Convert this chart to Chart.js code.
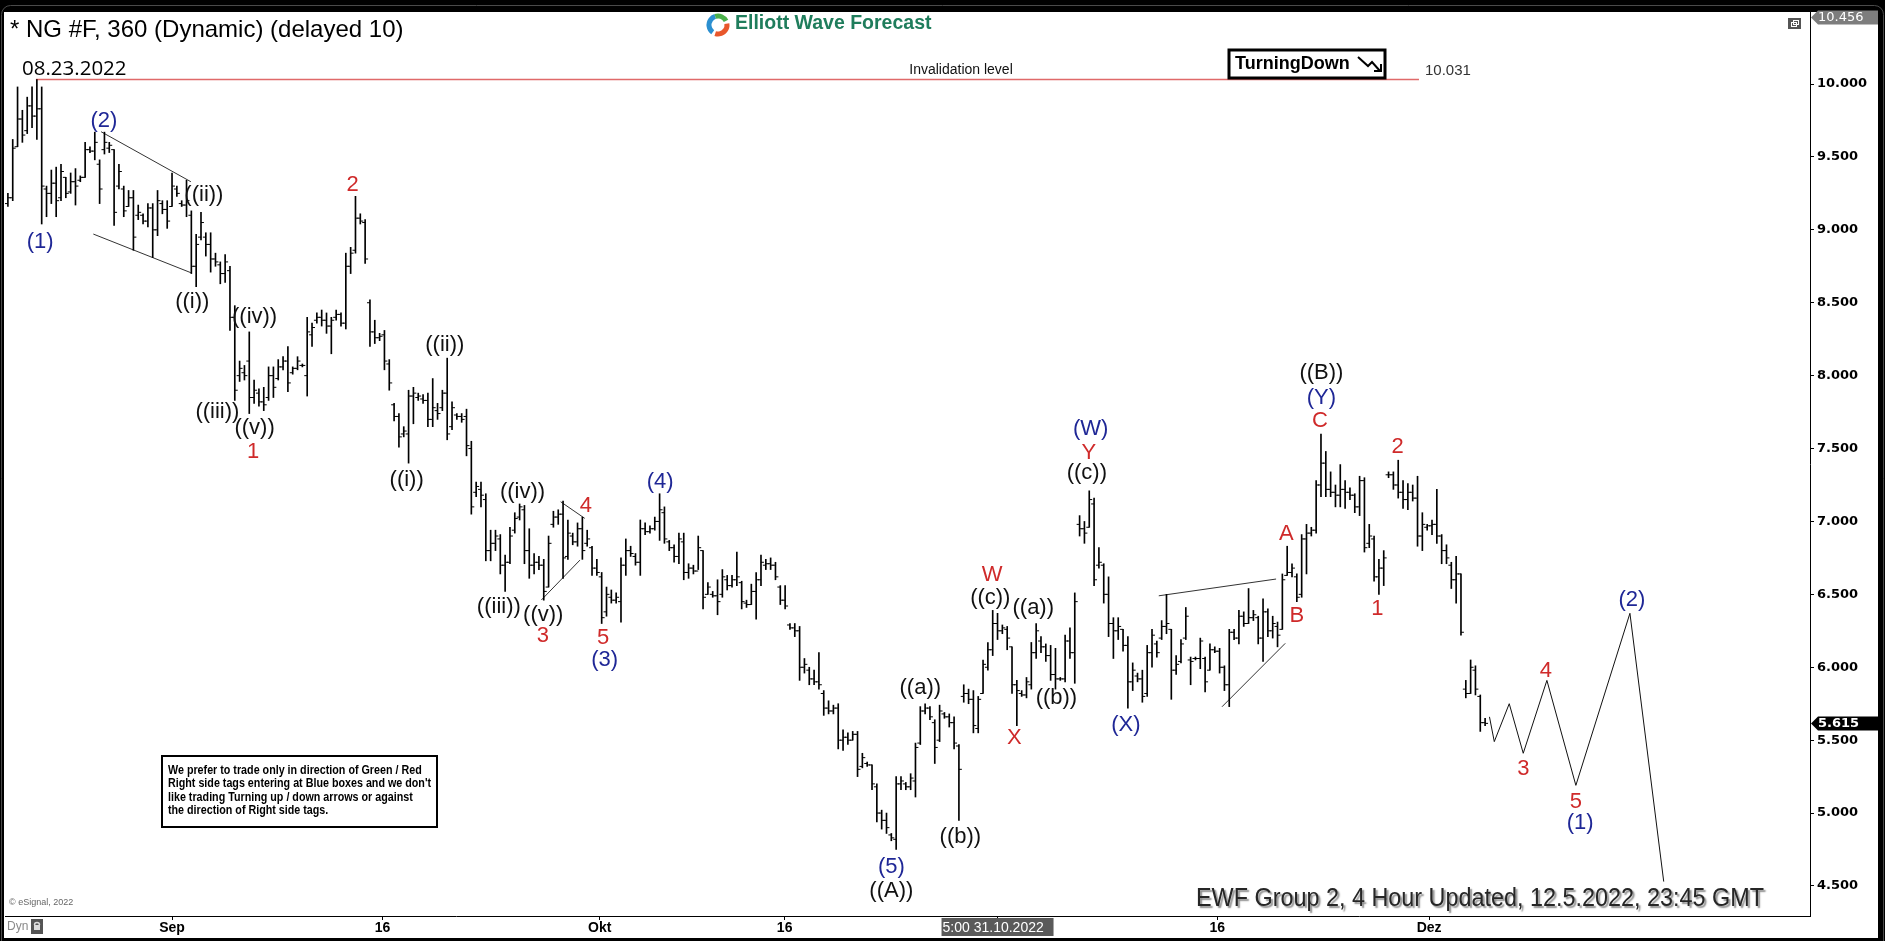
<!DOCTYPE html>
<html>
<head>
<meta charset="utf-8">
<title>NG #F 360</title>
<script src="https://cdn.jsdelivr.net/npm/chart.js@4.4.1/dist/chart.umd.min.js"></script>
<style>
  html, body { margin: 0; padding: 0; background: #000; }
  canvas { display: block; }
</style>
</head>
<body>
<canvas id="chart" width="1885" height="941" style="width:1885px;height:941px"></canvas>
<script>
// 6h bars, bar 0 = Aug 22 night, bar 306 = Dec 5
const opens = [
  9.18, 9.22, 9.57, 9.76, 9.68, 9.85, 9.78, 9.83, 9.28, 9.25,
  9.32, 9.22, 9.36, 9.26, 9.33, 9.34, 9.36, 9.55, 9.54, 9.45,
  9.55, 9.56, 9.55, 9.30, 9.28, 9.16, 9.22, 9.10, 9.10, 9.06,
  9.15, 9.00, 9.18, 9.14, 9.16, 9.28, 9.18, 9.17, 9.10, 8.75,
  8.95, 8.95, 8.90, 8.80, 8.76, 8.70, 8.72, 8.40, 8.00, 8.02,
  8.10, 7.85, 7.88, 7.82, 7.85, 8.00, 7.98, 8.06, 8.10, 8.02,
  8.05, 8.07, 8.00, 8.28, 8.38, 8.40, 8.38, 8.34, 8.40, 8.42,
  8.36, 8.75, 8.86, 9.08, 9.05, 8.50, 8.30, 8.26, 8.28, 8.08,
  7.80, 7.72, 7.60, 7.60, 7.86, 7.85, 7.84, 7.83, 7.70, 7.76,
  7.78, 7.88, 7.65, 7.73, 7.72, 7.72, 7.50, 7.20, 7.22, 7.15,
  6.80, 6.85, 6.88, 6.70, 6.72, 6.94, 7.03, 7.08, 6.80, 6.70,
  6.72, 6.70, 6.55, 6.98, 7.03, 7.05, 6.76, 6.90, 6.86, 6.95,
  6.85, 6.82, 6.68, 6.62, 6.38, 6.48, 6.46, 6.45, 6.70, 6.80,
  6.76, 6.72, 6.95, 6.93, 6.95, 7.00, 7.06, 6.86, 6.82, 6.76,
  6.86, 6.65, 6.68, 6.66, 6.80, 6.50, 6.50, 6.49, 6.50, 6.60,
  6.56, 6.60, 6.58, 6.44, 6.43, 6.52, 6.60, 6.70, 6.71, 6.70,
  6.55, 6.46, 6.29, 6.27, 6.25, 6.00, 5.98, 5.92, 5.90, 5.82,
  5.72, 5.70, 5.72, 5.50, 5.52, 5.50, 5.54, 5.32, 5.34, 5.33,
  5.18, 5.00, 4.95, 4.85, 4.82, 5.20, 5.20, 5.18, 5.22, 5.48,
  5.70, 5.72, 5.62, 5.50, 5.68, 5.66, 5.62, 5.46, 5.80, 5.82,
  5.78, 5.58, 5.82, 6.00, 6.12, 6.30, 6.25, 6.26, 6.14, 5.88,
  5.82, 5.81, 5.88, 6.10, 6.18, 6.14, 6.08, 5.95, 5.92, 5.92,
  6.18, 6.10, 6.98, 6.95, 6.96, 7.12, 6.70, 6.70, 6.50, 6.30,
  6.25, 6.26, 6.15, 5.90, 5.94, 5.92, 5.82, 6.10, 6.16, 6.20,
  6.28, 6.26, 5.98, 6.04, 6.20, 6.05, 6.06, 6.06, 6.06, 5.98,
  6.12, 6.11, 6.00, 5.88, 6.24, 6.20, 6.35, 6.30, 6.34, 6.34,
  6.20, 6.38, 6.25, 6.28, 6.26, 6.63, 6.65, 6.62, 6.50, 6.88,
  6.92, 6.94, 7.25, 7.40, 7.22, 7.20, 7.18, 7.22, 7.20, 7.18,
  7.10, 7.28, 6.85, 6.88, 6.62, 6.68, 7.32, 7.32, 7.25, 7.20,
  7.15, 7.20, 7.16, 6.90, 6.96, 6.97, 6.98, 6.90, 6.80, 6.70,
  6.60, 6.64, 5.85, 5.82, 5.98, 5.80, 5.62
];
const highs = [
  9.25, 9.62, 9.98, 9.82, 9.91, 9.98, 10.03, 9.98, 9.30, 9.41,
  9.43, 9.45, 9.36, 9.39, 9.42, 9.37, 9.60, 9.57, 9.67, 9.48,
  9.67, 9.60, 9.55, 9.45, 9.30, 9.27, 9.27, 9.17, 9.11, 9.18,
  9.18, 9.27, 9.20, 9.20, 9.39, 9.30, 9.20, 9.34, 9.13, 8.97,
  9.12, 8.98, 8.98, 8.84, 8.78, 8.83, 8.75, 8.48, 8.10, 8.07,
  8.30, 7.97, 7.91, 7.92, 8.06, 8.06, 8.11, 8.13, 8.20, 8.06,
  8.13, 8.08, 8.40, 8.36, 8.43, 8.45, 8.43, 8.40, 8.45, 8.43,
  8.84, 8.88, 9.23, 9.11, 9.07, 8.52, 8.38, 8.29, 8.31, 8.11,
  7.81, 7.74, 7.65, 7.90, 7.92, 7.88, 7.87, 7.88, 7.98, 7.81,
  7.90, 8.12, 7.82, 7.74, 7.74, 7.77, 7.55, 7.27, 7.27, 7.19,
  6.94, 6.94, 6.91, 6.77, 6.96, 7.06, 7.12, 7.11, 6.95, 6.78,
  6.76, 6.74, 6.90, 7.07, 7.08, 7.14, 7.01, 6.92, 6.99, 7.03,
  6.94, 6.83, 6.74, 6.65, 6.55, 6.53, 6.51, 6.75, 6.88, 6.83,
  6.78, 7.01, 6.99, 6.97, 7.03, 7.19, 7.10, 6.87, 6.84, 6.92,
  6.92, 6.71, 6.70, 6.90, 6.80, 6.58, 6.52, 6.60, 6.67, 6.63,
  6.63, 6.79, 6.59, 6.46, 6.57, 6.65, 6.77, 6.74, 6.75, 6.72,
  6.56, 6.56, 6.30, 6.30, 6.28, 6.06, 6.00, 5.98, 6.10, 5.84,
  5.77, 5.74, 5.75, 5.57, 5.55, 5.56, 5.56, 5.41, 5.35, 5.33,
  5.20, 5.02, 5.00, 4.86, 5.25, 5.25, 5.21, 5.27, 5.48, 5.73,
  5.75, 5.73, 5.64, 5.74, 5.69, 5.68, 5.66, 5.47, 5.88, 5.85,
  5.84, 5.80, 6.05, 6.17, 6.39, 6.37, 6.29, 6.28, 6.14, 5.91,
  5.84, 5.93, 6.17, 6.30, 6.21, 6.16, 6.15, 6.13, 5.93, 6.22,
  6.27, 6.51, 7.04, 7.00, 7.21, 7.16, 6.82, 6.71, 6.62, 6.34,
  6.34, 6.26, 6.21, 6.03, 5.96, 5.98, 6.15, 6.26, 6.18, 6.32,
  6.50, 6.26, 6.08, 6.19, 6.41, 6.07, 6.07, 6.20, 6.07, 6.16,
  6.14, 6.13, 6.01, 6.26, 6.26, 6.39, 6.38, 6.54, 6.39, 6.35,
  6.47, 6.40, 6.35, 6.31, 6.64, 6.83, 6.71, 6.64, 6.91, 6.98,
  6.96, 7.28, 7.60, 7.48, 7.34, 7.25, 7.39, 7.28, 7.23, 7.19,
  7.31, 7.30, 6.98, 6.90, 6.74, 6.80, 7.34, 7.34, 7.42, 7.28,
  7.26, 7.25, 7.31, 7.06, 6.98, 7.01, 7.22, 6.91, 6.84, 6.72,
  6.76, 6.64, 5.91, 6.05, 6.01, 5.81, 5.65
];
const lows = [
  9.16, 9.20, 9.57, 9.60, 9.66, 9.70, 9.62, 9.04, 9.09, 9.18,
  9.09, 9.20, 9.22, 9.25, 9.17, 9.33, 9.36, 9.53, 9.48, 9.18,
  9.52, 9.53, 9.03, 9.28, 9.09, 9.16, 8.86, 9.07, 9.04, 9.02,
  8.81, 8.96, 9.11, 9.01, 9.16, 9.23, 9.16, 9.09, 8.70, 8.61,
  8.93, 8.82, 8.71, 8.75, 8.63, 8.64, 8.31, 7.83, 7.96, 7.97,
  7.74, 7.81, 7.79, 7.76, 7.83, 7.85, 7.97, 8.04, 7.89, 8.01,
  8.04, 8.06, 7.86, 8.20, 8.36, 8.34, 8.29, 8.15, 8.38, 8.34,
  8.32, 8.70, 8.84, 9.04, 8.77, 8.20, 8.22, 8.24, 8.04, 7.90,
  7.69, 7.51, 7.58, 7.40, 7.67, 7.83, 7.81, 7.65, 7.65, 7.70,
  7.76, 7.56, 7.63, 7.70, 7.68, 7.45, 7.05, 7.17, 7.10, 6.73,
  6.73, 6.80, 6.64, 6.52, 6.71, 6.92, 7.01, 6.71, 6.61, 6.64,
  6.67, 6.46, 6.55, 6.96, 6.98, 6.61, 6.74, 6.84, 6.83, 6.74,
  6.83, 6.63, 6.63, 6.30, 6.35, 6.44, 6.44, 6.31, 6.63, 6.76,
  6.70, 6.63, 6.91, 6.92, 6.94, 6.87, 6.85, 6.80, 6.72, 6.71,
  6.60, 6.61, 6.64, 6.67, 6.40, 6.50, 6.48, 6.36, 6.48, 6.53,
  6.55, 6.56, 6.40, 6.41, 6.43, 6.33, 6.56, 6.67, 6.67, 6.60,
  6.43, 6.40, 6.26, 6.21, 5.91, 5.96, 5.88, 5.88, 5.85, 5.67,
  5.68, 5.68, 5.44, 5.43, 5.47, 5.50, 5.25, 5.31, 5.32, 5.16,
  4.94, 4.89, 4.86, 4.81, 4.75, 5.16, 5.16, 5.16, 5.11, 5.47,
  5.68, 5.64, 5.34, 5.49, 5.65, 5.59, 5.44, 4.95, 5.76, 5.75,
  5.55, 5.55, 5.82, 5.98, 6.08, 6.19, 6.23, 6.12, 5.82, 5.60,
  5.80, 5.79, 5.85, 6.06, 6.10, 6.04, 5.91, 5.85, 5.91, 5.90,
  6.06, 5.89, 6.90, 6.85, 6.96, 6.56, 6.68, 6.44, 6.21, 6.06,
  6.19, 6.11, 5.72, 5.84, 5.90, 5.76, 5.80, 6.00, 6.07, 6.19,
  6.23, 5.78, 5.95, 6.03, 6.19, 5.88, 6.05, 5.99, 5.83, 5.98,
  6.10, 5.96, 5.84, 5.73, 6.19, 6.16, 6.28, 6.30, 6.32, 6.16,
  6.04, 6.21, 6.20, 6.14, 6.26, 6.63, 6.62, 6.45, 6.48, 6.64,
  6.90, 6.92, 7.17, 7.17, 7.17, 7.10, 7.10, 7.09, 7.15, 7.06,
  7.04, 6.79, 6.82, 6.59, 6.50, 6.56, 7.30, 7.22, 7.16, 7.09,
  7.08, 7.14, 6.83, 6.80, 6.94, 6.91, 6.85, 6.71, 6.71, 6.54,
  6.44, 6.22, 5.79, 5.82, 5.81, 5.56, 5.60
];
const closes = [
  9.22, 9.56, 9.76, 9.65, 9.85, 9.78, 9.83, 9.30, 9.25, 9.32,
  9.20, 9.40, 9.25, 9.33, 9.30, 9.36, 9.55, 9.54, 9.60, 9.28,
  9.60, 9.58, 9.12, 9.40, 9.13, 9.22, 8.95, 9.12, 9.06, 9.15,
  9.00, 9.20, 9.14, 9.06, 9.30, 9.25, 9.17, 9.20, 8.75, 8.90,
  9.05, 8.90, 8.80, 8.78, 8.70, 8.78, 8.40, 7.90, 8.05, 8.00,
  7.85, 7.90, 7.82, 7.80, 8.00, 7.92, 8.06, 8.10, 7.95, 8.05,
  8.10, 8.07, 8.30, 8.33, 8.40, 8.38, 8.34, 8.38, 8.42, 8.36,
  8.75, 8.84, 9.08, 9.06, 8.80, 8.30, 8.26, 8.27, 8.10, 7.95,
  7.72, 7.58, 7.62, 7.86, 7.88, 7.86, 7.83, 7.70, 7.78, 7.74,
  7.88, 7.60, 7.78, 7.72, 7.70, 7.52, 7.10, 7.24, 7.18, 6.80,
  6.85, 6.90, 6.70, 6.72, 6.90, 7.02, 7.10, 6.80, 6.70, 6.72,
  6.70, 6.52, 6.85, 7.03, 7.05, 6.75, 6.92, 6.86, 6.95, 6.80,
  6.88, 6.68, 6.65, 6.34, 6.50, 6.46, 6.48, 6.70, 6.80, 6.78,
  6.72, 6.95, 6.93, 6.95, 7.00, 7.08, 6.88, 6.82, 6.76, 6.88,
  6.65, 6.68, 6.66, 6.82, 6.48, 6.55, 6.49, 6.45, 6.62, 6.56,
  6.60, 6.62, 6.45, 6.43, 6.52, 6.60, 6.72, 6.71, 6.70, 6.62,
  6.46, 6.42, 6.27, 6.25, 6.00, 6.02, 5.92, 5.90, 5.88, 5.72,
  5.70, 5.72, 5.50, 5.52, 5.50, 5.54, 5.30, 5.38, 5.33, 5.20,
  5.00, 4.95, 4.90, 4.83, 5.20, 5.22, 5.18, 5.24, 5.45, 5.70,
  5.72, 5.66, 5.45, 5.70, 5.66, 5.62, 5.48, 5.30, 5.82, 5.78,
  5.60, 5.78, 6.02, 6.12, 6.30, 6.25, 6.27, 6.20, 5.88, 5.84,
  5.81, 5.90, 6.10, 6.25, 6.14, 6.08, 5.95, 5.92, 5.92, 6.18,
  6.10, 6.45, 6.95, 6.92, 7.15, 6.60, 6.72, 6.50, 6.30, 6.25,
  6.28, 6.15, 5.90, 5.98, 5.92, 5.80, 6.10, 6.22, 6.10, 6.28,
  6.30, 5.98, 6.02, 6.16, 6.35, 6.04, 6.06, 6.18, 5.90, 6.12,
  6.11, 6.00, 5.88, 6.24, 6.20, 6.35, 6.30, 6.34, 6.36, 6.20,
  6.38, 6.25, 6.30, 6.22, 6.60, 6.65, 6.68, 6.48, 6.88, 6.92,
  6.94, 7.25, 7.40, 7.22, 7.20, 7.18, 7.22, 7.20, 7.18, 7.10,
  7.28, 6.82, 6.90, 6.62, 6.68, 6.75, 7.32, 7.25, 7.20, 7.15,
  7.20, 7.16, 6.90, 6.98, 6.97, 6.98, 6.90, 6.80, 6.75, 6.60,
  6.64, 6.24, 5.82, 6.00, 5.85, 5.62, 5.615
];

// projected path after the last bar (bar index, price)
const forecastX = [306.9, 307.9, 311.0, 313.9, 318.8, 324.8, 336.0, 343.0];
const forecastY = [5.66, 5.49, 5.75, 5.41, 5.91, 5.19, 6.37, 4.53];

// channel / triangle lines, [index, price] pairs
const trendLines = [
  [[19.3, 9.673], [37.9, 9.33]],
  [[17.7, 8.971], [37.9, 8.706]],
  [[114.5, 7.135], [119.5, 7.021]],
  [[110.5, 6.461], [118.5, 6.735]],
  [[238.4, 6.49], [262.7, 6.605]],
  [[251.5, 5.729], [264.6, 6.164]]
];

const invalidation = 10.031;
const invalidationSpan = [5.8, 292.3];
const lastPrice = 5.615;
const topPrice = 10.456;

const xTickPos = [34.0, 77.6, 122.6, 160.9, 205.0, 250.5, 294.4];
const xTickLabels = ['Sep', '16', 'Okt', '16', '5:00 31.10.2022', '16', 'Dez'];
const yTicks = [4.5, 5, 5.5, 6, 6.5, 7, 7.5, 8, 8.5, 9, 9.5, 10];

const BLUE = '#1f2796', RED = '#cf2a2a', INK = '#111';
// wave labels: text, bar index, price, colour
const waveLabels = [
  ['(2)', 19.9, 9.748, BLUE], ['(1)', 6.7, 8.918, BLUE],
  ['((ii))', 40.6, 9.239, INK], ['((i))', 38.2, 8.507, INK],
  ['((iv))', 51.1, 8.40, INK], ['((iii))', 43.4, 7.752, INK],
  ['((v))', 51.1, 7.638, INK], ['1', 50.8, 7.478, RED],
  ['2', 71.4, 9.307, RED],
  ['((ii))', 90.5, 8.21, INK], ['((i))', 82.6, 7.284, INK],
  ['((iv))', 106.6, 7.204, INK], ['4', 119.7, 7.106, RED],
  ['((iii))', 101.7, 6.415, INK], ['((v))', 110.9, 6.358, INK],
  ['3', 110.8, 6.214, RED], ['5', 123.3, 6.198, RED],
  ['(3)', 123.6, 6.049, BLUE], ['(4)', 135.1, 7.272, BLUE],
  ['((a))', 189.0, 5.855, INK], ['((b))', 197.3, 4.838, INK],
  ['(5)', 183.0, 4.632, BLUE], ['((A))', 183.0, 4.465, INK],
  ['W', 203.9, 6.632, RED], ['((c))', 203.5, 6.473, INK],
  ['((a))', 212.4, 6.404, INK], ['((b))', 217.2, 5.787, INK],
  ['X', 208.5, 5.512, RED],
  ['(W)', 224.3, 7.632, BLUE], ['Y', 223.9, 7.467, RED],
  ['((c))', 223.5, 7.33, INK], ['(X)', 231.6, 5.604, BLUE],
  ['A', 264.8, 6.914, RED], ['B', 267.0, 6.351, RED],
  ['C', 271.8, 7.691, RED], ['(Y)', 272.1, 7.846, BLUE],
  ['((B))', 272.1, 8.02, INK],
  ['2', 287.9, 7.512, RED], ['1', 283.7, 6.397, RED],
  ['3', 313.9, 5.30, RED], ['4', 318.6, 5.976, RED],
  ['5', 324.8, 5.078, RED], ['(1)', 325.7, 4.929, BLUE],
  ['(2)', 336.4, 6.461, BLUE]
];

const noteLines = [
  'We prefer to trade only in direction of Green / Red',
  "Right side tags entering at Blue boxes and we don't",
  'like trading Turning up / down arrows or against',
  'the direction of Right side tags.'
];

const SANS = '"Liberation Sans", Arial, sans-serif';
Chart.defaults.font.family = SANS;

const frame = {
  id: 'frame',
  beforeDraw(chart) {
    const ctx = chart.ctx;
    ctx.save();
    ctx.fillStyle = '#000';
    ctx.fillRect(0, 0, chart.width, chart.height);
    ctx.strokeStyle = '#4a4a4a';
    ctx.lineWidth = 1;
    ctx.beginPath();
    ctx.roundRect(1.5, 5.5, 1882, 950, 9);
    ctx.stroke();
    ctx.fillStyle = '#fff';
    ctx.fillRect(4, 12, 1874, 926);
    ctx.restore();
  }
};

function priceTag(ctx, y, text, bg, bold) {
  const x0 = 1811, x1 = 1878, h = 14;
  ctx.fillStyle = bg;
  ctx.beginPath();
  ctx.moveTo(x0, y);
  ctx.lineTo(x0 + 7, y - h / 2);
  ctx.lineTo(x1, y - h / 2);
  ctx.lineTo(x1, y + h / 2);
  ctx.lineTo(x0 + 7, y + h / 2);
  ctx.closePath();
  ctx.fill();
  ctx.fillStyle = '#fff';
  ctx.font = (bold ? 'bold ' : '') + '13px "DejaVu Sans"';
  ctx.textAlign = 'left';
  ctx.textBaseline = 'middle';
  ctx.fillText(text, 1818, y + 0.5);
}

function squeezeText(ctx, text, x, y, width) {
  const w = ctx.measureText(text).width;
  ctx.save();
  ctx.translate(x, y);
  ctx.scale(Math.min(1, width / w), 1);
  ctx.fillText(text, 0, 0);
  ctx.restore();
}

const overlay = {
  id: 'overlay',
  afterDraw(chart) {
    const ctx = chart.ctx;
    const xs = chart.scales.x, ys = chart.scales.y;
    ctx.save();

    // header
    ctx.fillStyle = '#000';
    ctx.textAlign = 'left';
    ctx.textBaseline = 'alphabetic';
    ctx.font = '24px ' + SANS;
    ctx.fillText('* NG #F, 360 (Dynamic) (delayed 10)', 10, 37);
    ctx.font = '20.5px "Open Sans"';
    ctx.fillText('08.23.2022', 22, 75);

    // logo
    const cx = 718, cy = 25, r = 9;
    ctx.lineWidth = 5;
    ctx.strokeStyle = '#2b8fd0';
    ctx.beginPath(); ctx.arc(cx, cy, r, Math.PI * 0.7, Math.PI * 1.4); ctx.stroke();
    ctx.strokeStyle = '#4bb04a';
    ctx.beginPath(); ctx.arc(cx, cy, r, Math.PI * 1.4, Math.PI * 1.85); ctx.stroke();
    ctx.strokeStyle = '#e8572b';
    ctx.beginPath(); ctx.arc(cx, cy, r, Math.PI * 1.95, Math.PI * 0.6); ctx.stroke();
    ctx.fillStyle = '#1f7d5c';
    ctx.font = 'bold 19.5px ' + SANS;
    ctx.textBaseline = 'middle';
    ctx.fillText('Elliott Wave Forecast', 735, 24);

    // invalidation texts
    ctx.fillStyle = '#111';
    ctx.font = '14px ' + SANS;
    ctx.textAlign = 'center';
    ctx.fillText('Invalidation level', 961, 70);
    ctx.textAlign = 'left';
    ctx.fillStyle = '#333';
    ctx.font = '15px ' + SANS;
    ctx.fillText(invalidation.toFixed(3), 1425, 71);

    // Turning down tag
    ctx.lineWidth = 3;
    ctx.strokeStyle = '#000';
    ctx.fillStyle = '#fff';
    ctx.fillRect(1229, 50, 156, 28);
    ctx.strokeRect(1229, 50, 156, 28);
    ctx.fillStyle = '#000';
    ctx.font = 'bold 18px ' + SANS;
    ctx.fillText('TurningDown', 1235, 64.5);
    ctx.lineWidth = 2;
    ctx.beginPath();
    ctx.moveTo(1358, 57); ctx.lineTo(1368, 66); ctx.lineTo(1372, 62); ctx.lineTo(1380, 71);
    ctx.moveTo(1374, 71); ctx.lineTo(1381, 71); ctx.lineTo(1381, 64);
    ctx.stroke();

    // small restore icon
    ctx.fillStyle = '#555';
    ctx.fillRect(1788, 18, 13, 11);
    ctx.strokeStyle = '#fff';
    ctx.lineWidth = 1;
    ctx.strokeRect(1791.5, 22.5, 5, 4);
    ctx.strokeRect(1793.5, 20.5, 5, 4);

    // note box
    ctx.fillStyle = '#fff';
    ctx.fillRect(162, 756, 275, 71);
    ctx.strokeStyle = '#000';
    ctx.lineWidth = 2;
    ctx.strokeRect(162, 756, 275, 71);
    ctx.fillStyle = '#000';
    ctx.font = 'bold 12px ' + SANS;
    ctx.textBaseline = 'alphabetic';
    const sx = 263 / ctx.measureText(noteLines[1]).width;
    noteLines.forEach((t, i) => {
      ctx.save();
      ctx.translate(168, 774 + i * 13.4);
      ctx.scale(Math.min(1, sx), 1);
      ctx.fillText(t, 0, 0);
      ctx.restore();
    });

    // bottom texts
    ctx.fillStyle = '#666';
    ctx.font = '9px ' + SANS;
    ctx.fillText('\u00a9 eSignal, 2022', 9, 905);

    ctx.save();
    ctx.shadowColor = 'rgba(0,0,0,0.45)';
    ctx.shadowOffsetX = 2;
    ctx.shadowOffsetY = 2;
    ctx.shadowBlur = 1.5;
    ctx.fillStyle = '#262626';
    ctx.font = '25px "Liberation Sans Narrow", ' + SANS;
    squeezeText(ctx, 'EWF Group 2, 4 Hour Updated, 12.5.2022, 23:45 GMT', 1196, 906, 568);
    ctx.restore();

    // Dyn + lock
    ctx.fillStyle = '#8a8a8a';
    ctx.font = '12px "Liberation Sans Narrow", ' + SANS;
    ctx.textBaseline = 'middle';
    ctx.fillText('Dyn', 7, 927);
    ctx.fillStyle = '#555';
    ctx.fillRect(31, 919, 12, 15);
    ctx.strokeStyle = '#ddd';
    ctx.lineWidth = 1.5;
    ctx.beginPath(); ctx.arc(37, 925, 2.5, Math.PI, 0); ctx.stroke();
    ctx.fillStyle = '#ddd';
    ctx.fillRect(34, 925, 6, 5);

    // 31.10 cursor box on the time axis
    const bx = xs.getPixelForValue(xTickPos[4]);
    ctx.fillStyle = '#5a5a5a';
    ctx.fillRect(bx - 56, 918, 112, 18);
    ctx.fillStyle = '#fff';
    ctx.font = '14px "Liberation Sans Narrow", ' + SANS;
    ctx.textAlign = 'left';
    ctx.textBaseline = 'middle';
    squeezeText(ctx, xTickLabels[4], bx - 55, 928, 108);

    // price tags on the right scale
    priceTag(ctx, ys.getPixelForValue(topPrice), topPrice.toFixed(3), '#7d7d7d', false);
    priceTag(ctx, ys.getPixelForValue(lastPrice), lastPrice.toFixed(3), '#000', true);

    // wave labels
    ctx.textAlign = 'center';
    ctx.textBaseline = 'middle';
    ctx.font = '22px ' + SANS;
    waveLabels.forEach(([t, i, p, c]) => {
      ctx.fillStyle = c;
      ctx.fillText(t, xs.getPixelForValue(i), ys.getPixelForValue(p));
    });

    ctx.restore();
  }
};

const bars = highs.map((h, i) => ({ x: i, y: [lows[i], h] }));
const openTicks = opens.map((v, i) => ({ x: i - 0.3, y: v }));
const closeTicks = closes.map((v, i) => ({ x: i + 0.3, y: v }));
const forecast = forecastX.map((x, i) => ({ x, y: forecastY[i] }));

const lineSet = (pts, color, width) => ({
  type: 'line', data: pts, borderColor: color, borderWidth: width,
  pointRadius: 0, fill: false, tension: 0
});

new Chart(document.getElementById('chart'), {
  type: 'bar',
  data: {
    datasets: [
      { data: bars, backgroundColor: '#000', borderWidth: 0, barThickness: 1 },
      { type: 'line', data: openTicks, showLine: false, pointStyle: 'line',
        pointRadius: 1.5, pointBorderWidth: 1, pointBorderColor: '#000' },
      { type: 'line', data: closeTicks, showLine: false, pointStyle: 'line',
        pointRadius: 1.5, pointBorderWidth: 1, pointBorderColor: '#000' },
      lineSet(forecast, '#111', 1),
      lineSet(invalidationSpan.map(x => ({ x, y: invalidation })), '#e06a6a', 1.5),
      ...trendLines.map(seg => lineSet(seg.map(([x, y]) => ({ x, y })), '#333', 1))
    ]
  },
  options: {
    responsive: false,
    animation: false,
    devicePixelRatio: 1,
    events: [],
    layout: { padding: { left: 4, top: 12, right: 7, bottom: 3 } },
    plugins: { legend: { display: false }, tooltip: { enabled: false } },
    scales: {
      x: {
        type: 'linear',
        min: -0.6,
        max: 373.3,
        offset: false,
        position: 'bottom',
        afterBuildTicks: s => { s.ticks = xTickPos.map(v => ({ value: v })); },
        afterFit: s => { s.height = 22; },
        grid: { offset: false, drawOnChartArea: false, drawTicks: true, tickLength: 4, color: '#000' },
        border: { display: true, color: '#000', width: 1 },
        ticks: {
          autoSkip: false, maxRotation: 0, padding: 0, color: '#000',
          font: { family: SANS, size: 14, weight: 'bold' },
          callback: (v, i) => (i === 4 ? '' : xTickLabels[i])
        }
      },
      y: {
        type: 'linear',
        position: 'right',
        min: 4.294,
        max: 10.494,
        afterBuildTicks: s => { s.ticks = yTicks.map(v => ({ value: v })); },
        afterFit: s => { s.width = 68; },
        grid: { drawOnChartArea: false, drawTicks: true, tickLength: 4, color: '#000' },
        border: { display: true, color: '#000', width: 1 },
        ticks: {
          padding: 3, color: '#000',
          font: { family: '"DejaVu Sans"', size: 13, weight: 'bold' },
          callback: v => Number(v).toFixed(3)
        }
      }
    }
  },
  plugins: [frame, overlay]
});
</script>
</body>
</html>
